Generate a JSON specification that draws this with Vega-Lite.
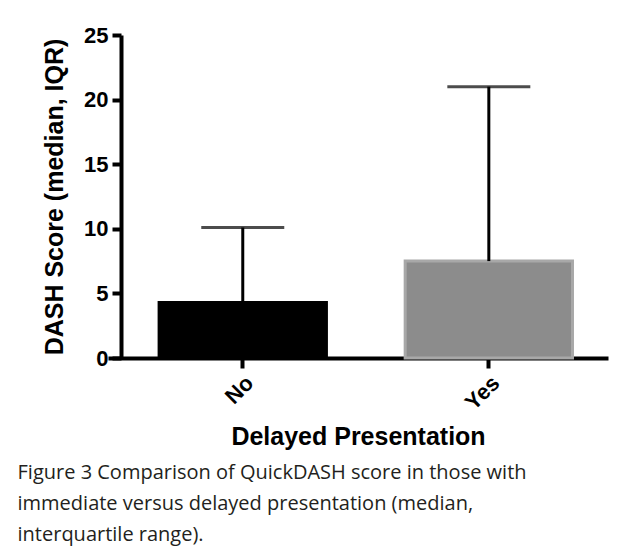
{
  "$schema": "https://vega.github.io/schema/vega-lite/v6.json",
  "width": 500,
  "height": 323,
  "autosize": {"type": "none"},
  "padding": {"left": 108, "top": 35, "right": 14, "bottom": 191},
  "background": "white",
  "config": {
    "view": {"stroke": null},
    "font": "Liberation Sans"
  },
  "data": {
    "values": [
      {"group": "No", "median": 4.3, "upper": 10.1},
      {"group": "Yes", "median": 7.5, "upper": 21.0}
    ]
  },
  "title": {
    "text": ["Figure 3 Comparison of QuickDASH score in those with", "immediate versus delayed presentation (median,", "interquartile range)."],
    "orient": "bottom",
    "anchor": "start",
    "frame": "bounds",
    "font": "Open Sans",
    "fontSize": 20,
    "fontWeight": 500,
    "color": "#231f20",
    "lineHeight": 31,
    "offset": 13,
    "dx": -25
  },
  "encoding": {
    "x": {
      "field": "group",
      "type": "nominal",
      "scale": {"paddingInner": 0.32, "paddingOuter": 0.176, "align": 0.59},
      "axis": {
        "title": "Delayed Presentation",
        "titleFont": "Liberation Sans",
        "titleFontSize": 25,
        "titleFontWeight": "bold",
        "titleColor": "black",
        "titlePadding": 11,
        "labelAngle": -45,
        "labelFontSize": 22,
        "labelFontWeight": "bold",
        "labelColor": "black",
        "labelPadding": 4,
        "domainColor": "black",
        "domainWidth": 4,
        "tickColor": "black",
        "tickWidth": 4,
        "tickSize": 10
      }
    }
  },
  "layer": [
    {
      "mark": {"type": "bar", "strokeWidth": 3},
      "encoding": {
        "y": {
          "field": "median",
          "type": "quantitative",
          "scale": {"domain": [0, 25], "nice": false},
          "axis": {
            "title": "DASH Score (median, IQR)",
            "titleFontSize": 25,
            "titleFontWeight": "bold",
            "titleColor": "black",
            "titlePadding": 16,
            "values": [0, 5, 10, 15, 20, 25],
            "labelFontSize": 22,
            "labelFontWeight": "bold",
            "labelColor": "black",
            "labelPadding": 4,
            "domainColor": "black",
            "domainWidth": 4,
            "tickColor": "black",
            "tickWidth": 4,
            "tickSize": 9,
            "grid": false,
            "offset": -13
          }
        },
        "fill": {
          "field": "group",
          "type": "nominal",
          "scale": {"domain": ["No", "Yes"], "range": ["#000000", "#8c8c8c"]},
          "legend": null
        },
        "stroke": {
          "field": "group",
          "type": "nominal",
          "scale": {"domain": ["No", "Yes"], "range": ["#000000", "#a8a8a8"]},
          "legend": null
        }
      }
    },
    {
      "mark": {"type": "rule", "color": "black", "strokeWidth": 3},
      "encoding": {
        "y": {"field": "median", "type": "quantitative"},
        "y2": {"field": "upper"}
      }
    },
    {
      "mark": {"type": "tick", "color": "black", "thickness": 3, "size": 83},
      "encoding": {
        "y": {"field": "upper", "type": "quantitative"}
      }
    }
  ]
}
